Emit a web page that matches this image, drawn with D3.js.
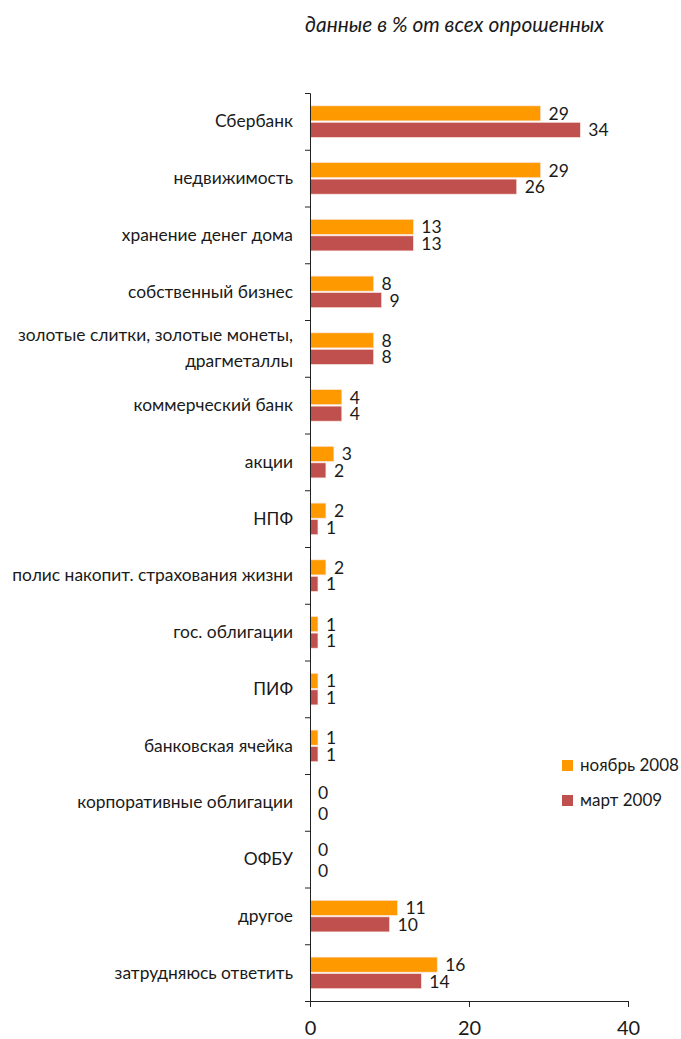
<!DOCTYPE html>
<html><head><meta charset="utf-8">
<script src="https://cdn.jsdelivr.net/npm/d3@7"></script>
<style>body{margin:0;background:#fff;} text{font-family:"Lato","Noto Sans",sans-serif;fill:#1a1a1a;}</style>
</head><body>
<svg id="c" width="681" height="1039"></svg>
<script>
const categories = [
  ["Сбербанк"],
  ["недвижимость"],
  ["хранение денег дома"],
  ["собственный бизнес"],
  ["золотые слитки, золотые монеты,", "драгметаллы"],
  ["коммерческий банк"],
  ["акции"],
  ["НПФ"],
  ["полис накопит. страхования жизни"],
  ["гос. облигации"],
  ["ПИФ"],
  ["банковская ячейка"],
  ["корпоративные облигации"],
  ["ОФБУ"],
  ["другое"],
  ["затрудняюсь ответить"]
];
const nov2008 = [29, 29, 13, 8, 8, 4, 3, 2, 2, 1, 1, 1, 0, 0, 11, 16];
const mar2009 = [34, 26, 13, 9, 8, 4, 2, 1, 1, 1, 1, 1, 0, 0, 10, 14];
const seriesNames = ["ноябрь 2008", "март 2009"];
const colors = ["#FF9900", "#C0504D"];
const xTicks = [0, 20, 40];
const title = "данные в % от всех опрошенных";

const svg = d3.select("#c");
const x = d3.scaleLinear().domain([0, 40]).range([310, 628]);
const y = d3.scaleBand().domain(d3.range(categories.length)).range([93, 1001]).paddingInner(0).paddingOuter(0);

// title
svg.append("text").attr("x", 305).attr("y", 32).attr("font-size", 20.9).attr("font-style", "italic").text(title);

// bars
const series = [nov2008, mar2009];
const barH = 15;
series.forEach((vals, si) => {
  const g = svg.append("g");
  vals.forEach((v, i) => {
    const c = y(i) + y.bandwidth() / 2;
    const top = si === 0 ? c - 15.5 : c + 1;
    if (v > 0) {
      g.append("rect").attr("x", x(0)).attr("y", top).attr("width", x(v) - x(0)).attr("height", barH)
        .attr("fill", colors[si]).attr("stroke", "#fbe3dc").attr("stroke-width", 0.6);
    }
    const dy = v === 0 ? (si === 0 ? -1.5 : 2.5) : 0;
    g.append("text").attr("x", x(v) + 8).attr("y", top + 14 + dy).attr("font-size", 17.5).text(v);
  });
});

// y axis
const yAxis = d3.axisLeft(d3.scaleLinear().domain([0, categories.length]).range([93, 1001]))
  .tickValues(d3.range(categories.length + 1)).tickSize(5).tickFormat("");
const ya = svg.append("g").attr("transform", `translate(${x(0)},0)`).call(yAxis);
ya.select(".domain").attr("stroke", "#222");
ya.selectAll(".tick line").attr("stroke", "#222");

// category labels
categories.forEach((lines, i) => {
  const c = y(i) + y.bandwidth() / 2;
  const lh = 26;
  lines.forEach((ln, k) => {
    svg.append("text").attr("x", 293).attr("y", c + 6 + (k - (lines.length - 1) / 2) * lh)
      .attr("text-anchor", "end").attr("font-size", 17.4).text(ln);
  });
});

// x axis
const xAxis = d3.axisBottom(x).tickValues(xTicks).tickSize(6).tickPadding(14).tickFormat(d3.format("d"));
const xa = svg.append("g").attr("transform", `translate(0,1001)`).call(xAxis);
xa.select(".domain").attr("stroke", "#222");
xa.selectAll(".tick line").attr("stroke", "#222");
xa.selectAll("text").attr("font-size", 20).attr("fill", "#1a1a1a").attr("font-family", "Lato, 'Noto Sans', sans-serif");

// legend
seriesNames.forEach((n, i) => {
  const ly = 760 + i * 35;
  svg.append("rect").attr("x", 562).attr("y", ly).attr("width", 11).attr("height", 11).attr("fill", colors[i]);
  svg.append("text").attr("x", 580).attr("y", ly + 11).attr("font-size", 17).text(n);
});
</script>
</body></html>
